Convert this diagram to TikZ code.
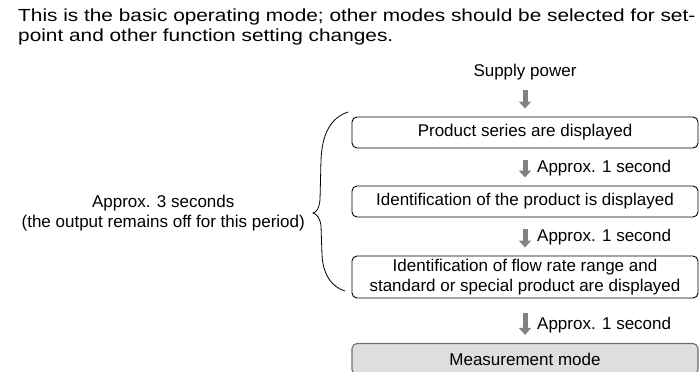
\documentclass[tikz,border=0pt]{standalone}
\usepackage{fontspec}
\setmainfont{Liberation Sans}
\newfontfamily\widesans[FakeStretch=1.19]{Liberation Sans}
\usetikzlibrary{arrows.meta}
\definecolor{arrowgray}{RGB}{130,130,130}
\definecolor{modefill}{RGB}{222,222,222}
\definecolor{modeedge}{RGB}{110,110,110}
\begin{document}
\begin{tikzpicture}[x=1pt,y=-1pt,
  txt/.style={font=\fontsize{17}{20}\selectfont, inner sep=0pt},
  headtxt/.style={font=\widesans\fontsize{17.5}{20}\selectfont, inner sep=0pt, anchor=base west},
  stepbox/.style={txt, draw=black, line width=0.9pt, rounded corners=5pt,
    minimum width=346pt, minimum height=31pt, align=center},
  modebox/.style={stepbox, fill=modefill, draw=modeedge, line width=1.1pt},
  flow/.style={draw=arrowgray, line width=5pt,
    -{Triangle[width=12pt,length=7pt]}},
  delay/.style={txt, anchor=west}
]
\useasboundingbox (0,0) rectangle (699,372);

% introductory sentence
\node[headtxt] (hdrA) at (18,21) {This is the basic operating mode; other modes should be selected for set-};
\node[headtxt] (hdrB) at (18,41) {point and other function setting changes.};

% start-up sequence
\node[txt, anchor=base] (pwr) at (525,76) {Supply power};
\node[stepbox] (s1) at (525,132.5) {Product series are displayed};
\node[stepbox] (s2) at (525,201.5) {Identification of the product is displayed};
\node[stepbox, minimum height=42pt] (s3) at (525,277) {Identification of flow rate range and\\standard or special product are displayed};
\node[modebox] (s4) at (525,359) {Measurement mode};

\draw[flow] ([yshift=-14pt]pwr.base) -- ([yshift=8pt]s1.north);
\draw[flow] ([yshift=-12pt]s1.south) -- ([yshift=8pt]s2.north);
\draw[flow] ([yshift=-12pt]s2.south) -- ([yshift=8pt]s3.north);
\draw[flow] ([yshift=-15pt]s3.south) -- ([yshift=8pt]s4.north);

\node[delay] (d1) at (537,168) {Approx. 1 second};
\node[delay] (d2) at (537,237) {Approx. 1 second};
\node[delay] (d3) at (537,325) {Approx. 1 second};

% brace spanning the first three steps
\coordinate (brtop) at (348,112);
\coordinate (brtip) at (313,213);
\coordinate (brbot) at (345,291);
\draw[line width=0.8pt] (brtop) .. controls (330,118) and (322,135) .. (321,160)
  -- (320,200) .. controls (319,208) and (317,212) .. (brtip)
  .. controls (317,214) and (320,218) .. (321,226)
  -- (322,255) .. controls (323,275) and (332,287) .. (brbot);
\node[txt, align=center, anchor=east] (note) at (305,213) {Approx. 3 seconds\\(the output remains off for this period)};
\end{tikzpicture}
\end{document}
